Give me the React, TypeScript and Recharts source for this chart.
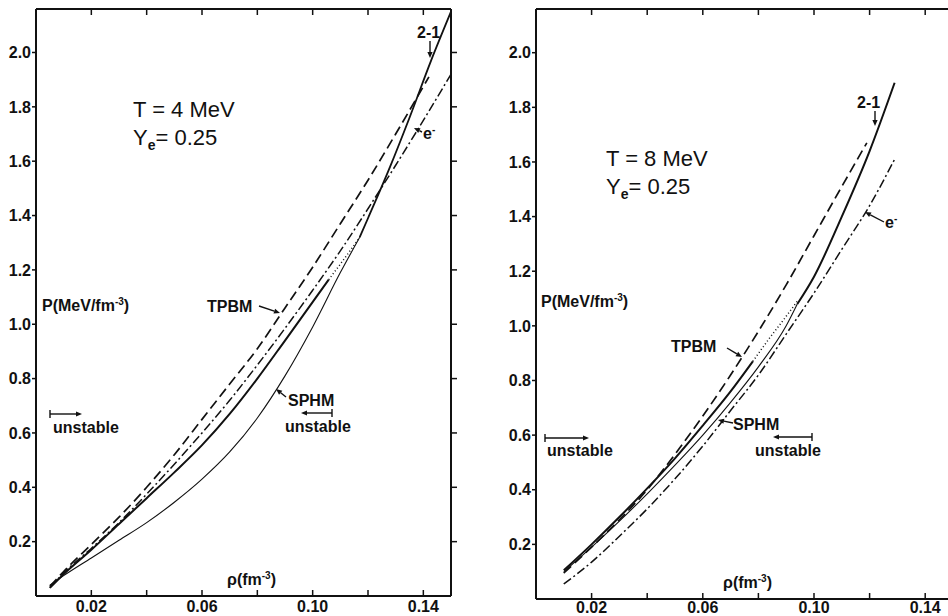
import { LineChart, Line, XAxis, YAxis } from "recharts";

// axis ticks
const rhoTicks = [0.02, 0.04, 0.06, 0.08, 0.1, 0.12, 0.14];
const rhoLabelled = [0.02, 0.06, 0.1, 0.14];
const pTicks = [0.2, 0.4, 0.6, 0.8, 1.0, 1.2, 1.4, 1.6, 1.8, 2.0];

// T = 4 MeV
const rhoTpbm4 = [0.005, 0.01, 0.02, 0.03, 0.04, 0.05, 0.06, 0.07, 0.08, 0.09, 0.1, 0.11, 0.12, 0.13, 0.142];
const pTpbm4 = [0.035, 0.09, 0.19, 0.29, 0.4, 0.52, 0.65, 0.78, 0.91, 1.06, 1.21, 1.37, 1.53, 1.7, 1.91];
const rhoElec4 = [0.005, 0.01, 0.02, 0.03, 0.04, 0.05, 0.06, 0.07, 0.08, 0.09, 0.1, 0.11, 0.12, 0.13, 0.14, 0.15];
const pElec4 = [0.03, 0.085, 0.175, 0.27, 0.375, 0.485, 0.6, 0.72, 0.85, 0.985, 1.125, 1.27, 1.425, 1.585, 1.75, 1.92];
const rhoMix4 = [0.005, 0.01, 0.02, 0.03, 0.04, 0.05, 0.06, 0.07, 0.08, 0.09, 0.1058];
const pMix4 = [0.03, 0.08, 0.17, 0.265, 0.36, 0.455, 0.555, 0.67, 0.8, 0.94, 1.164];
const rhoDot4 = [0.1058, 0.111, 0.117];
const pDot4 = [1.164, 1.235, 1.32];
const rhoSphm4 = [0.005, 0.01, 0.02, 0.03, 0.04, 0.05, 0.06, 0.07, 0.08, 0.09, 0.1, 0.11, 0.117];
const pSphm4 = [0.04, 0.075, 0.14, 0.205, 0.27, 0.345, 0.43, 0.53, 0.655, 0.81, 0.99, 1.19, 1.32];
const rhoUpper4 = [0.117, 0.12, 0.128, 0.135, 0.1428, 0.15];
const pUpper4 = [1.32, 1.39, 1.58, 1.76, 1.97, 2.15];

// T = 8 MeV
const rhoTpbm8 = [0.01, 0.02, 0.03, 0.04, 0.05, 0.06, 0.07, 0.08, 0.09, 0.1, 0.11, 0.119];
const pTpbm8 = [0.095, 0.19, 0.29, 0.4, 0.53, 0.67, 0.82, 0.98, 1.15, 1.33, 1.51, 1.67];
const rhoElec8 = [0.01, 0.02, 0.03, 0.04, 0.05, 0.06, 0.07, 0.08, 0.09, 0.1, 0.11, 0.12, 0.129];
const pElec8 = [0.055, 0.135, 0.23, 0.33, 0.44, 0.56, 0.69, 0.82, 0.97, 1.12, 1.28, 1.44, 1.61];
const rhoMix8 = [0.01, 0.02, 0.03, 0.04, 0.05, 0.06, 0.07, 0.078];
const pMix8 = [0.105, 0.2, 0.3, 0.405, 0.515, 0.635, 0.76, 0.87];
const rhoDot8 = [0.078, 0.084, 0.09, 0.094];
const pDot8 = [0.87, 0.955, 1.035, 1.09];
const rhoSphm8 = [0.01, 0.02, 0.03, 0.04, 0.05, 0.06, 0.07, 0.08, 0.09, 0.094];
const pSphm8 = [0.1, 0.19, 0.285, 0.385, 0.49, 0.6, 0.72, 0.85, 1.0, 1.08];
const rhoUpper8 = [0.094, 0.1, 0.11, 0.12, 0.129];
const pUpper8 = [1.08, 1.18, 1.4, 1.64, 1.89];

type Curve = { key: string; rho: number[]; p: number[]; width: number; dash?: string };

const toPoints = (rho: number[], p: number[]) => rho.map((r, i) => ({ rho: r, p: p[i] }));

const INK = "#111";
const FONT = "'Liberation Sans', Arial, sans-serif";
const tickFont = { fontFamily: FONT, fontSize: 16, fontWeight: 700, fill: INK };

const curves4: Curve[] = [
    { key: "tpbm", rho: rhoTpbm4, p: pTpbm4, width: 1.7, dash: "10 5" },
    { key: "elec", rho: rhoElec4, p: pElec4, width: 1.5, dash: "9 3 2 3" },
    { key: "mix", rho: rhoMix4, p: pMix4, width: 2 },
    { key: "dot", rho: rhoDot4, p: pDot4, width: 1.5, dash: "1 2.5" },
    { key: "sphm", rho: rhoSphm4, p: pSphm4, width: 1.1 },
    { key: "upper", rho: rhoUpper4, p: pUpper4, width: 1.8 },
];

const curves8: Curve[] = [
    { key: "tpbm", rho: rhoTpbm8, p: pTpbm8, width: 1.7, dash: "10 5" },
    { key: "elec", rho: rhoElec8, p: pElec8, width: 1.5, dash: "9 3 2 3" },
    { key: "mix", rho: rhoMix8, p: pMix8, width: 2 },
    { key: "dot", rho: rhoDot8, p: pDot8, width: 1.5, dash: "1 2.5" },
    { key: "sphm", rho: rhoSphm8, p: pSphm8, width: 1.1 },
    { key: "upper", rho: rhoUpper8, p: pUpper8, width: 2 },
];

interface PanelProps {
    curves: Curve[];
    width: number;
    yAxisWidth: number;
    marginRight: number;
    xAxisHeight: number;
    labelGap: number;
}

function Panel({ curves, width, yAxisWidth, marginRight, xAxisHeight, labelGap }: PanelProps) {
    const frame = { stroke: INK, strokeWidth: 2 };
    const tickLine = { stroke: INK, strokeWidth: 1.5 };
    return (
        <LineChart width={width} height={616} margin={{ top: 8, right: marginRight, bottom: 0, left: 0 }}>
            <XAxis
                xAxisId="bottom"
                type="number"
                dataKey="rho"
                domain={[0, 0.15]}
                allowDataOverflow
                ticks={rhoTicks}
                interval={0}
                tickFormatter={(v: number) => (rhoLabelled.includes(v) ? v.toFixed(2) : "")}
                height={xAxisHeight}
                tickSize={-6}
                tickMargin={labelGap}
                axisLine={frame}
                tickLine={tickLine}
                tick={tickFont}
            />
            <XAxis
                xAxisId="top"
                orientation="top"
                type="number"
                dataKey="rho"
                domain={[0, 0.15]}
                allowDataOverflow
                ticks={rhoTicks}
                interval={0}
                tickFormatter={() => ""}
                height={1}
                tickSize={-6}
                axisLine={frame}
                tickLine={tickLine}
            />
            <YAxis
                yAxisId="left"
                type="number"
                domain={[0, 2.16]}
                allowDataOverflow
                ticks={pTicks}
                interval={0}
                tickFormatter={(v: number) => v.toFixed(1)}
                width={yAxisWidth}
                tickSize={4}
                tickMargin={1}
                axisLine={frame}
                tickLine={tickLine}
                tick={tickFont}
            />
            <YAxis
                yAxisId="right"
                orientation="right"
                type="number"
                domain={[0, 2.16]}
                allowDataOverflow
                ticks={pTicks}
                interval={0}
                tickFormatter={() => ""}
                width={1}
                tickSize={6}
                axisLine={frame}
                tickLine={tickLine}
            />
            {curves.map((c) => (
                <Line
                    key={c.key}
                    xAxisId="bottom"
                    yAxisId="left"
                    data={toPoints(c.rho, c.p)}
                    dataKey="p"
                    type="monotone"
                    stroke={INK}
                    strokeWidth={c.width}
                    strokeDasharray={c.dash}
                    dot={false}
                    activeDot={false}
                    isAnimationActive={false}
                />
            ))}
        </LineChart>
    );
}

function Arrow({ x1, y1, x2, y2, bar = false }: { x1: number; y1: number; x2: number; y2: number; bar?: boolean }) {
    const a = Math.atan2(y2 - y1, x2 - x1);
    const h = 6;
    const w = 2.6;
    const bx = x2 - h * Math.cos(a);
    const by = y2 - h * Math.sin(a);
    const pts = `${x2},${y2} ${bx - w * Math.sin(a)},${by + w * Math.cos(a)} ${bx + w * Math.sin(a)},${by - w * Math.cos(a)}`;
    return (
        <g>
            <line x1={x1} y1={y1} x2={bx} y2={by} stroke={INK} strokeWidth={1.4} />
            <polygon points={pts} fill={INK} />
            {bar && <line x1={x1} y1={y1 - 4} x2={x1} y2={y1 + 4} stroke={INK} strokeWidth={1.4} />}
        </g>
    );
}

function PanelLabels({ title, pLabel, tpbm, sphm, unstableL, unstableR, twoOne, elec, rhoLabel }: any) {
    const small = { fontFamily: FONT, fontSize: 16, fontWeight: 700, fill: INK };
    const big = { fontFamily: FONT, fontSize: 22, fill: INK };
    return (
        <g>
            <text x={title.x} y={title.y} {...big}>{title.text}</text>
            <text x={title.x} y={title.y + 28} {...big}>
                Y<tspan dy={5} fontSize={14} fontWeight={700}>e</tspan>
                <tspan dy={-5}>= 0.25</tspan>
            </text>
            <text x={pLabel.x} y={pLabel.y} {...small}>
                P(MeV/fm<tspan dy={-6} fontSize={10}>-3</tspan>
                <tspan dy={6}>)</tspan>
            </text>
            <text x={tpbm.x} y={tpbm.y} {...small}>TPBM</text>
            <Arrow x1={tpbm.a[0]} y1={tpbm.a[1]} x2={tpbm.a[2]} y2={tpbm.a[3]} />
            <text x={sphm.x} y={sphm.y} {...small}>SPHM</text>
            <Arrow x1={sphm.a[0]} y1={sphm.a[1]} x2={sphm.a[2]} y2={sphm.a[3]} />
            <text x={unstableL.x} y={unstableL.y} {...small}>unstable</text>
            <Arrow x1={unstableL.a[0]} y1={unstableL.a[1]} x2={unstableL.a[2]} y2={unstableL.a[1]} bar />
            <text x={unstableR.x} y={unstableR.y} {...small}>unstable</text>
            <Arrow x1={unstableR.a[0]} y1={unstableR.a[1]} x2={unstableR.a[2]} y2={unstableR.a[1]} bar />
            <text x={twoOne.x} y={twoOne.y} {...small}>2-1</text>
            <Arrow x1={twoOne.a[0]} y1={twoOne.a[1]} x2={twoOne.a[2]} y2={twoOne.a[3]} />
            <text x={elec.x} y={elec.y} {...small}>
                e<tspan dy={-6} fontSize={10}>-</tspan>
            </text>
            <Arrow x1={elec.a[0]} y1={elec.a[1]} x2={elec.a[2]} y2={elec.a[3]} />
            <text x={rhoLabel.x} y={rhoLabel.y} {...small}>
                ρ(fm<tspan dy={-6} fontSize={10}>-3</tspan>
                <tspan dy={6}>)</tspan>
            </text>
        </g>
    );
}

export default function App() {
    return (
        <div style={{ position: "absolute", left: 0, top: 0, width: 948, height: 616, overflow: "hidden", background: "#fff" }}>
            <div style={{ position: "absolute", left: 0, top: 0 }}>
                <Panel curves={curves4} width={480} yAxisWidth={36} marginRight={28} xAxisHeight={20} labelGap={11} />
            </div>
            <div style={{ position: "absolute", left: 470, top: 0 }}>
                <Panel curves={curves8} width={500} yAxisWidth={66} marginRight={16} xAxisHeight={17} labelGap={9} />
            </div>
            <svg width={948} height={616} style={{ position: "absolute", left: 0, top: 0, pointerEvents: "none" }}>
                <PanelLabels
                    title={{ x: 133, y: 117, text: "T = 4 MeV" }}
                    pLabel={{ x: 42, y: 311 }}
                    tpbm={{ x: 207, y: 312, a: [259, 306, 280, 313] }}
                    sphm={{ x: 288, y: 406, a: [286, 397, 276, 389] }}
                    unstableL={{ x: 53, y: 433, a: [50, 414, 82] }}
                    unstableR={{ x: 285, y: 432, a: [332, 413, 301] }}
                    twoOne={{ x: 417, y: 38, a: [430, 41, 430, 58] }}
                    elec={{ x: 423, y: 139, a: [422, 132, 414, 128] }}
                    rhoLabel={{ x: 227, y: 585 }}
                />
                <PanelLabels
                    title={{ x: 606, y: 166, text: "T = 8 MeV" }}
                    pLabel={{ x: 541, y: 307 }}
                    tpbm={{ x: 671, y: 352, a: [727, 348, 742, 357] }}
                    sphm={{ x: 733, y: 430, a: [733, 423, 718, 420] }}
                    unstableL={{ x: 547, y: 456, a: [545, 438, 589] }}
                    unstableR={{ x: 755, y: 456, a: [812, 437, 773] }}
                    twoOne={{ x: 857, y: 108, a: [875, 111, 875, 126] }}
                    elec={{ x: 885, y: 228, a: [884, 222, 865, 212] }}
                    rhoLabel={{ x: 723, y: 588 }}
                />
            </svg>
        </div>
    );
}
